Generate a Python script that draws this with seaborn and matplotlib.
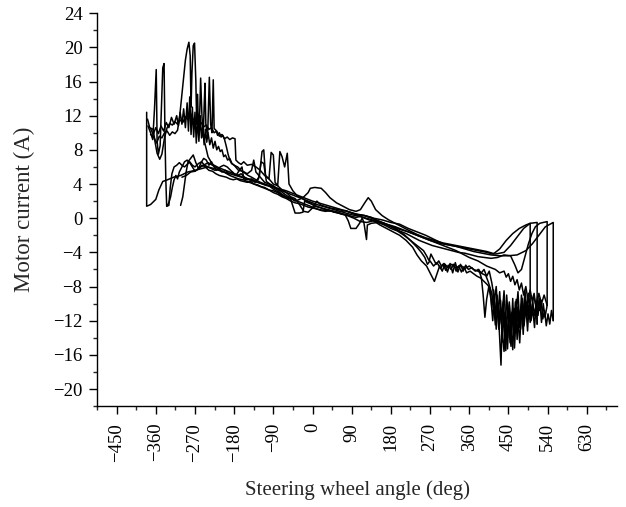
import numpy as np
import pandas as pd
import matplotlib
matplotlib.use("Agg")
import matplotlib.pyplot as plt
import seaborn as sns
from matplotlib.ticker import MultipleLocator

# each trial: (steering wheel angle in deg, motor current in A)
trial_1 = [
    (-381, 12.4), (-381, 1.4), (-372, 1.6), (-360, 2.2), (-353, 3.3), (-344, 4.3), (-333, 4.5), (-319, 4.8), (-303, 5.0), (-287, 5.4),
    (-270, 5.6), (-255, 5.8), (-241, 6.0), (-225, 5.8), (-210, 5.5), (-190, 5.2), (-170, 4.9), (-150, 4.6), (-130, 4.3), (-110, 3.9),
    (-90, 3.6), (-70, 3.2), (-50, 2.8), (-30, 2.4), (-10, 2.0), (10, 1.6), (30, 1.3), (50, 1.0), (70, 0.7), (90, 0.4),
    (110, 0.2), (130, -0.1), (150, -0.4), (170, -0.7), (190, -1.0), (210, -1.4), (230, -1.8), (250, -2.2), (270, -2.6), (290, -2.9),
    (310, -3.1), (330, -3.3), (350, -3.6), (370, -3.9), (390, -4.1), (410, -4.3), (430, -4.4), (450, -4.4), (470, -4.3), (490, -3.8),
    (505, -3.0), (520, -2.0), (535, -1.0), (553, -0.5), (553, -12.0),
]

trial_2 = [
    (-379, 11.6), (-374, 10.6), (-366, 10.4), (-362, 9.0), (-357, 7.6), (-351, 6.9), (-346, 7.5), (-340, 9.4), (-334, 10.6), (-328, 11.1),
    (-322, 10.9), (-316, 11.3), (-310, 11.0), (-304, 11.5), (-298, 11.2), (-292, 11.9), (-286, 11.5), (-280, 12.2), (-274, 11.6), (-268, 11.3),
    (-262, 10.9), (-256, 11.2), (-250, 10.7), (-244, 10.9), (-238, 10.4), (-232, 10.6), (-226, 10.0), (-220, 10.2), (-214, 9.6), (-208, 9.8),
    (-202, 9.3), (-196, 9.5), (-190, 9.2), (-184, 9.4), (-178, 9.3), (-176, 6.8), (-170, 6.5), (-164, 6.3), (-158, 6.6), (-150, 6.2),
    (-140, 6.3), (-130, 6.0), (-120, 5.6), (-110, 5.0), (-100, 4.6), (-90, 4.0), (-80, 3.8), (-70, 3.3), (-60, 3.0), (-50, 2.5),
    (-40, 2.3), (-30, 1.6), (-20, 0.8), (-10, 0.7), (0, 1.2), (10, 2.0), (20, 1.5), (40, 1.2), (60, 1.0), (80, 0.8),
    (100, 0.5), (120, 0.3), (140, 0.0), (160, -0.2), (180, -0.5), (200, -0.7), (220, -1.2), (240, -1.6), (260, -2.0), (280, -2.5),
    (300, -3.0), (320, -3.2), (340, -3.4), (360, -3.6), (380, -3.8), (400, -4.0), (415, -4.2), (430, -3.6), (445, -2.6), (460, -1.8),
    (475, -1.2), (490, -0.8), (500, -0.6), (500, -10.5),
]

trial_3 = [
    (-378, 10.8), (-372, 10.0), (-367, 9.2), (-363, 12.8), (-359, 17.4), (-357, 9.0), (-354, 7.5), (-350, 8.5), (-347, 13.0), (-344, 17.6),
    (-341, 18.1), (-339, 10.0), (-337, 4.5), (-335, 1.4), (-330, 1.5), (-327, 3.5), (-323, 5.2), (-318, 6.0), (-312, 6.2), (-306, 6.5),
    (-300, 6.2), (-294, 6.0), (-288, 6.3), (-282, 6.6), (-276, 6.2), (-270, 6.0), (-262, 6.4), (-255, 6.6), (-248, 6.2), (-240, 6.0),
    (-232, 5.8), (-224, 5.6), (-216, 5.8), (-208, 5.4), (-200, 5.6), (-192, 5.2), (-184, 5.4), (-176, 5.0), (-168, 5.6), (-162, 6.0),
    (-158, 4.6), (-150, 4.5), (-140, 4.6), (-130, 4.3), (-122, 4.9), (-116, 7.8), (-112, 8.0), (-108, 5.0), (-100, 4.6), (-95, 7.7),
    (-90, 7.4), (-86, 4.2), (-80, 3.8), (-75, 7.8), (-70, 7.2), (-64, 6.0), (-58, 7.6), (-54, 4.0), (-45, 3.2), (-35, 2.6),
    (-25, 2.4), (-15, 2.0), (-5, 1.8), (5, 1.4), (20, 1.2), (35, 1.0), (50, 0.8), (65, 0.5), (80, 0.3), (95, 0.0),
    (110, -0.4), (125, -0.5), (140, -0.3), (155, -0.8), (170, -1.2), (185, -1.6), (200, -2.0), (215, -2.6), (230, -3.4), (240, -4.3),
    (250, -5.0), (262, -5.6), (272, -6.6), (280, -7.4), (286, -6.5), (292, -5.6), (298, -6.2), (304, -5.4), (310, -6.3), (316, -5.3),
    (322, -6.4), (328, -5.2), (334, -6.3), (340, -5.4), (346, -6.2), (352, -5.5), (358, -6.0), (366, -5.8), (374, -6.2), (382, -6.0),
    (388, -7.0), (392, -9.0), (396, -11.6), (400, -9.5), (405, -8.0), (410, -9.5), (414, -12.0), (418, -9.0), (422, -13.0), (426, -10.0),
    (430, -14.0), (433, -17.2), (436, -11.0), (440, -8.5), (444, -12.5), (448, -15.3), (452, -10.2), (456, -13.8), (460, -9.4), (464, -15.2),
    (468, -11.0), (472, -8.6), (476, -12.4), (480, -10.0), (484, -13.6), (488, -9.2), (492, -11.5), (496, -8.8), (500, -10.5),
]

trial_4 = [
    (-372, 9.8), (-365, 9.5), (-358, 8.8), (-352, 9.6), (-346, 9.4), (-340, 10.0), (-334, 10.2), (-328, 9.7), (-322, 10.1), (-316, 9.9),
    (-310, 10.3), (-305, 12.0), (-300, 14.5), (-296, 16.5), (-292, 18.5), (-288, 19.8), (-284, 20.6), (-281, 19.0), (-279, 13.0), (-277, 17.0),
    (-274, 20.2), (-271, 20.5), (-268, 16.0), (-266, 11.0), (-264, 14.5), (-262, 10.0), (-259, 12.5), (-257, 16.4), (-254, 12.0), (-251, 9.5),
    (-249, 13.0), (-247, 15.8), (-245, 11.0), (-241, 9.5), (-237, 16.5), (-234, 11.0), (-231, 10.0), (-228, 16.2), (-226, 10.5), (-222, 10.3),
    (-218, 9.7), (-214, 10.0), (-210, 9.5), (-206, 9.7), (-202, 9.2), (-198, 8.4), (-194, 7.5), (-190, 6.8), (-186, 6.4),
    (-180, 6.2), (-172, 6.0), (-164, 5.6), (-156, 5.3), (-148, 5.0), (-140, 4.8), (-130, 4.5), (-120, 4.2), (-110, 4.0), (-100, 3.8),
    (-90, 3.4), (-80, 3.1), (-70, 2.8), (-60, 2.5), (-50, 2.3), (-40, 2.0), (-30, 2.2), (-20, 2.5), (-10, 3.0), (-5, 3.5),
    (5, 3.6), (20, 3.5), (30, 3.0), (40, 2.4), (55, 1.8), (70, 1.4), (85, 1.0), (100, 0.8), (110, 1.0), (120, 1.8),
    (128, 2.4), (135, 2.0), (145, 1.0), (160, 0.3), (175, -0.2), (190, -0.6), (205, -1.0), (220, -1.4), (240, -1.9), (260, -2.3),
    (280, -2.6), (300, -2.9), (320, -3.1), (340, -3.3), (360, -3.5), (380, -3.7), (400, -3.9), (420, -4.2), (440, -4.0), (455, -3.2),
    (470, -2.2), (485, -1.2), (500, -0.6), (516, -0.5), (516, -12.4),
]

trial_5 = [
    (-335, 1.4), (-330, 1.8), (-326, 2.5), (-322, 3.6), (-318, 4.5), (-314, 5.0), (-310, 4.6), (-306, 5.4), (-300, 6.0), (-294, 6.6),
    (-288, 6.8), (-282, 6.5), (-276, 6.0), (-270, 5.5), (-262, 5.8), (-254, 6.2), (-246, 6.0), (-238, 5.6), (-230, 5.5), (-222, 5.2),
    (-214, 5.0), (-206, 4.9), (-198, 4.8), (-190, 4.6), (-182, 4.5), (-174, 4.6), (-166, 4.4), (-158, 4.3), (-150, 4.2), (-142, 4.3),
    (-134, 4.0), (-126, 3.9), (-118, 3.7), (-110, 3.6), (-100, 3.3), (-90, 3.2), (-80, 3.0), (-70, 2.6), (-60, 2.4), (-50, 2.2),
    (-45, 1.4), (-40, 0.6), (-30, 0.6), (-22, 0.7), (-18, 2.0), (-10, 1.8), (0, 1.6), (15, 1.3), (30, 1.0), (45, 0.8),
    (60, 0.6), (75, 0.4), (82, -0.3), (88, -1.2), (100, -1.2), (108, -0.6), (114, 0.0), (118, -0.5), (124, -2.5), (126, -0.8),
    (135, -0.6), (150, -0.5), (165, -0.8), (180, -1.2), (195, -1.5), (210, -2.0), (225, -2.6), (240, -3.2), (255, -3.8), (262, -4.4),
    (268, -5.0), (272, -4.2), (278, -4.8), (284, -5.4), (290, -5.0), (296, -5.6), (302, -5.3), (310, -5.7), (320, -5.4), (330, -5.8),
    (340, -5.5), (350, -5.9), (360, -5.6), (370, -6.0), (380, -6.2), (390, -6.5), (398, -6.7), (404, -7.5), (410, -8.5), (416, -10.0),
    (420, -12.5), (424, -9.0), (428, -13.0), (432, -10.5), (436, -14.5), (440, -11.0), (444, -15.5), (448, -10.0), (452, -12.8), (456, -15.0),
    (460, -10.5), (464, -13.0), (468, -9.5), (472, -12.0), (476, -14.6), (480, -10.4), (484, -12.0), (488, -9.6), (492, -11.8), (496, -10.2),
    (500, -12.2), (506, -9.8), (510, -11.4), (514, -10.0), (516, -12.4),
]

trial_6 = [
    (-300, 4.8), (-290, 5.0), (-280, 5.4), (-270, 5.5), (-260, 5.9), (-250, 6.2), (-240, 6.5), (-230, 6.2), (-220, 5.9), (-210, 5.6),
    (-200, 5.3), (-190, 5.0), (-180, 4.8), (-170, 4.6), (-160, 4.5), (-150, 4.3), (-140, 4.1), (-130, 3.9), (-120, 3.7), (-110, 3.5),
    (-100, 3.3), (-90, 3.0), (-80, 2.8), (-70, 2.5), (-60, 2.3), (-50, 2.0), (-40, 1.8), (-30, 1.7), (-20, 1.5), (-10, 1.3),
    (0, 1.2), (15, 1.0), (30, 0.9), (45, 0.8), (60, 0.7), (75, 0.9), (90, 0.6), (105, 0.4), (120, 0.3), (135, 0.1),
    (150, -0.3), (165, -0.6), (180, -1.0), (195, -1.4), (210, -1.9), (225, -2.6), (240, -3.4), (250, -4.0), (258, -4.6), (264, -5.4),
    (270, -5.0), (278, -5.6), (286, -5.2), (294, -5.9), (300, -5.4), (306, -6.1), (312, -5.5), (318, -6.0), (324, -5.4), (330, -6.2),
    (336, -5.6), (342, -6.3), (348, -5.7), (354, -6.4), (362, -6.2), (370, -6.5), (378, -6.8), (386, -7.0), (394, -7.4), (402, -7.8),
    (408, -8.2), (412, -10.5), (416, -8.4), (420, -11.8), (424, -9.2), (428, -12.6), (432, -9.6), (436, -13.5), (440, -15.6), (444, -11.5),
    (448, -14.0), (452, -9.8), (456, -12.6), (460, -15.4), (464, -10.6), (468, -13.2), (472, -10.4), (476, -12.8), (480, -9.0), (484, -11.4),
    (488, -8.5), (492, -10.5), (496, -9.2), (502, -11.0), (508, -9.0), (514, -10.4), (520, -8.8), (526, -10.0), (532, -9.0), (539, -10.2),
]

trial_7 = [
    (-303, 1.5), (-298, 2.5), (-294, 4.0), (-290, 5.5), (-286, 6.6), (-280, 7.0), (-274, 7.4), (-268, 6.5), (-262, 5.8), (-256, 6.5),
    (-250, 7.0), (-244, 6.8), (-238, 6.2), (-232, 6.6), (-226, 6.0), (-220, 5.6), (-212, 6.0), (-204, 6.2), (-196, 6.0), (-188, 5.6),
    (-180, 5.2), (-172, 5.0), (-164, 5.2), (-156, 4.8), (-148, 4.6), (-140, 4.5), (-132, 4.2), (-124, 4.6), (-118, 6.6), (-112, 6.4),
    (-106, 4.3), (-98, 4.0), (-90, 3.8), (-82, 3.5), (-74, 3.2), (-66, 2.9), (-58, 2.6), (-50, 2.4), (-40, 2.1), (-30, 1.9),
    (-20, 1.7), (-10, 1.5), (0, 1.3), (10, 1.1), (20, 0.9), (30, 0.8), (40, 0.9), (50, 0.7), (60, 0.6), (70, 0.5),
    (80, 0.4), (90, 0.2), (100, 0.1), (110, 0.2), (120, 0.0), (130, -0.2), (140, -0.3), (150, -0.4), (160, -0.6), (170, -0.8),
    (180, -1.0), (190, -1.2), (200, -1.5), (215, -1.8), (230, -2.2), (245, -2.6), (260, -2.9), (275, -3.2), (290, -3.4), (305, -3.6),
    (320, -3.8), (335, -4.0), (350, -4.1), (365, -4.3), (380, -4.5), (395, -4.6), (410, -4.7), (425, -4.6), (440, -4.3), (455, -4.4),
    (465, -5.5), (472, -6.4), (480, -6.0), (488, -4.5), (496, -3.0), (504, -1.8), (512, -1.0), (522, -0.6), (530, -0.5), (539, -0.4),
    (539, -10.2),
]

trial_8 = [
    (553, -12.0), (549, -10.8), (545, -12.4), (541, -11.2), (537, -12.6), (533, -10.8), (529, -11.8), (525, -9.6), (521, -10.8), (517, -9.2),
    (513, -10.4), (509, -8.8), (505, -9.8), (500, -8.4), (495, -9.6), (490, -8.0), (485, -9.0), (480, -7.6), (475, -8.4), (470, -7.2),
    (465, -7.8), (460, -6.8), (455, -7.4), (450, -6.5), (445, -6.9), (440, -6.2), (430, -6.4), (420, -6.0), (410, -5.8), (400, -5.6),
    (390, -5.3), (380, -5.0), (370, -4.8), (360, -4.6), (345, -4.2), (330, -3.8), (315, -3.5), (300, -3.2), (280, -2.8), (260, -2.4),
    (240, -2.0), (220, -1.6), (200, -1.3), (180, -0.9), (160, -0.5), (140, -0.1), (120, 0.3), (100, 0.4), (80, 0.8), (60, 1.1),
    (40, 1.4), (20, 1.7), (0, 2.0), (-20, 2.4), (-40, 2.8), (-60, 3.2), (-80, 3.5), (-100, 3.8), (-120, 4.1), (-140, 4.4),
    (-160, 4.8), (-180, 5.2), (-200, 5.6), (-215, 5.9), (-230, 6.3), (-240, 7.2), (-246, 8.5), (-252, 9.8),
]

trial_9 = [
    (-372, 10.5), (-366, 9.8), (-360, 10.6), (-354, 9.9), (-348, 10.8), (-342, 10.2), (-336, 11.2), (-330, 10.6), (-324, 11.8), (-318, 11.0),
    (-312, 12.0), (-308, 10.8), (-304, 12.4), (-300, 11.0), (-296, 12.8), (-292, 10.6), (-288, 13.5), (-285, 10.2), (-282, 14.2), (-279, 9.8),
    (-276, 13.0), (-273, 9.5), (-270, 12.4), (-267, 8.8), (-264, 11.6), (-261, 9.0), (-258, 12.0), (-255, 9.4), (-252, 10.8), (-249, 8.6),
    (-246, 10.4), (-243, 8.9), (-240, 10.0), (-236, 8.6), (-232, 9.4), (-228, 8.2), (-224, 9.0), (-220, 8.0), (-216, 8.4), (-212, 7.8),
    (-208, 8.0), (-204, 7.2), (-200, 7.4), (-195, 6.8), (-190, 7.0), (-185, 6.4), (-180, 6.2), (-170, 5.6), (-160, 5.5), (-150, 5.2),
    (-140, 5.6), (-135, 6.8), (-130, 5.4), (-120, 4.8), (-110, 4.2), (-100, 4.0), (-90, 3.6), (-80, 3.3), (-70, 2.7), (-60, 2.4),
]

trial_10 = [
    (380, -6.0), (388, -6.4), (394, -6.0), (400, -6.8), (406, -6.2), (412, -7.6), (418, -9.6), (422, -8.0), (426, -11.2), (430, -8.6),
    (434, -12.4), (438, -9.8), (442, -13.8), (446, -9.0), (450, -12.0), (454, -14.6), (458, -11.0), (462, -13.6), (466, -9.8), (470, -14.2),
    (474, -10.8), (478, -13.0), (482, -9.4), (486, -12.6), (490, -10.2), (494, -13.2), (498, -9.6), (502, -12.0), (506, -10.6), (510, -12.8),
    (514, -9.8), (518, -11.4), (522, -9.4), (526, -12.2), (530, -10.0), (534, -11.6), (539, -10.2),
]

trials = [trial_1, trial_2, trial_3, trial_4, trial_5, trial_6, trial_7, trial_8, trial_9, trial_10]

frames = []
for i, t in enumerate(trials):
    arr = np.array(t, dtype=float)
    frames.append(pd.DataFrame({'angle': arr[:, 0], 'current': arr[:, 1], 'trial': i}))
df = pd.concat(frames, ignore_index=True)

sns.set_theme(style='ticks')
plt.rcParams['font.family'] = ['Liberation Serif', 'DejaVu Serif']
plt.rcParams['axes.unicode_minus'] = True

fig = plt.figure(figsize=(6.26, 5.07), dpi=100)
ax = fig.add_axes([0.155, 0.199, 0.831, 0.775])

sns.lineplot(data=df, x='angle', y='current', units='trial', estimator=None,
             sort=False, color='black', linewidth=1.1, ax=ax)

ax.set_xlim(-495, 700)
ax.set_ylim(-22, 24)
ax.set_xticks(np.arange(-450, 631, 90))
ax.set_yticks(np.arange(-20, 25, 4))
ax.xaxis.set_minor_locator(MultipleLocator(45))
ax.yaxis.set_minor_locator(MultipleLocator(2))
ax.tick_params(axis='both', which='major', direction='out', length=5.5, width=1, labelsize=13.5, colors='black')
ax.tick_params(axis='both', which='minor', direction='out', length=3, width=1)
ax.tick_params(axis='x', which='major', pad=6.5)
ax.tick_params(axis='y', which='major', pad=5)
plt.setp(ax.get_xticklabels(), rotation=90)

sns.despine(ax=ax)
for s in ['left', 'bottom']:
    ax.spines[s].set_linewidth(1.0)
    ax.spines[s].set_color('black')

ax.set_xlabel('Steering wheel angle (deg)', fontsize=15)
ax.set_ylabel('Motor current (A)', fontsize=16.5)
ax.xaxis.set_label_coords(0.5, -0.19)
ax.yaxis.set_label_coords(-0.12, 0.5)

fig.savefig('out.png', dpi=100)
